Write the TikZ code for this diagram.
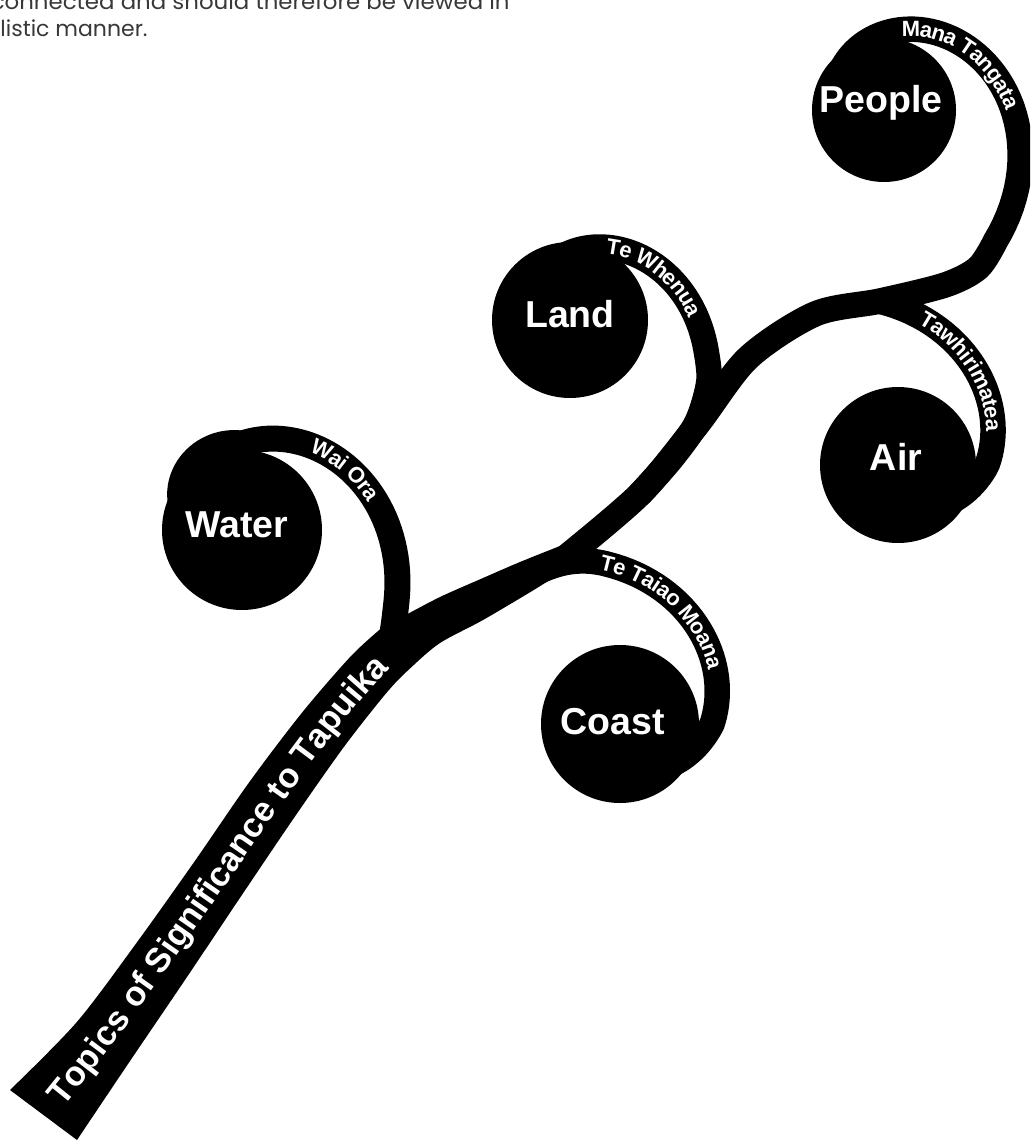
\documentclass[tikz,border=0pt]{standalone}
\usepackage{fontspec}
\setmainfont{Liberation Sans}
\newfontfamily\gothic{Poppins}
\usetikzlibrary{decorations.text}
\newcommand\blobfont{\fontsize{18.75}{20}\selectfont\bfseries}
\newcommand\bandfont{\fontsize{11}{12}\selectfont\bfseries}
\newcommand\trunkfont{\fontsize{17.25}{18}\selectfont\bfseries}
% spiral radii (angle in degrees, picture units = px)
\pgfmathdeclarefunction{rpeople}{1}{\pgfmathparse{129*exp(-0.0058*#1)}}
\pgfmathdeclarefunction{rland}{1}{\pgfmathparse{127.5*exp(-0.0071*#1)}}
\pgfmathdeclarefunction{rwater}{1}{\pgfmathparse{147*exp(-0.0059*#1)+0.009*max(#1-90,0)*max(170-#1,0)}}
\pgfmathdeclarefunction{rcoast}{1}{\pgfmathparse{92*exp(0.00588*#1+0.003*min(#1,0))}}
\pgfmathdeclarefunction{rair}{1}{\pgfmathparse{89*exp(0.0064*#1+0.003*min(#1,0))}}
\begin{document}
\begin{tikzpicture}[x=0.5pt,y=0.5pt,
  band/.style={draw=black, line width=12.75pt, line cap=butt, line join=round},
  blob/.style={circle, fill=black, inner sep=0pt, draw=none},
  blobtext/.style={text=white, font=\blobfont, inner sep=0pt, anchor=base},
  toptext/.style={text=black!78, font=\gothic\fontsize{11}{13}\selectfont, inner sep=0pt, anchor=base east},
  bandtext/.style={decorate, decoration={text along path, text align=center, raise=-3.5pt, text={|\bandfont\color{white}|#1}}},
]
\useasboundingbox (0,0) rectangle (1030,-1144);
\fill[white] (0,0) rectangle (1030,-1144);
\clip (0,0) rectangle (1030,-1144);

% top text (cut off)
\node[toptext] (line1) at (510,-10) {\scalebox{1.04}[1]{connected and should therefore be viewed in}};
\node[toptext] (line2) at (148,-37) {holistic manner.};

% trunk
\fill[black] plot[smooth] coordinates {(10,-1090) (76.6,-1022.3) (136.3,-943.2) (194.5,-861.5) (249.1,-782.4) (302,-712.7) (350.3,-656.8) (380.2,-629.2)}
  -- plot[smooth] coordinates {(402,-617) (440,-597) (483,-578) (520,-562) (560,-546)}
  -- plot[smooth] coordinates {(576,-563) (537,-588) (483,-620) (440,-643) (411.8,-666.8) (387.7,-691.4) (344.8,-745.7) (295.7,-815.4) (242.2,-894.5) (186.1,-978.3) (129.4,-1061.9) (77,-1140)} -- cycle;

% circles
\node[blob, minimum size=72pt] (people) at (884,-110) {};
\node[blob, minimum size=78pt] (land) at (570,-320) {};
\node[blob, minimum size=80pt] (water) at (242,-530) {};
\node[blob, minimum size=79pt] (coast) at (620,-724) {};
\node[blob, minimum size=78pt] (air) at (898,-465) {};

% main branch to People
\draw[band] plot[smooth] coordinates {(560,-562) (640,-494) (697,-425) (748,-358) (815,-314) (880,-301) (945,-285) (978,-268) (994.9,-242.1)}
  -- plot[variable=\s, domain=0:1, samples=60] ({884+rpeople(-50+190*\s)*cos(-50+190*\s)}, {-110+rpeople(-50+190*\s)*sin(-50+190*\s)});

% Land
\draw[band] plot[smooth] coordinates {(640,-494) (672,-458) (697,-422) (709,-380) (704.8,-343.8)}
  -- plot[variable=\s, domain=0:1, samples=50] ({570+rland(-10+115*\s)*cos(-10+115*\s)}, {-320+rland(-10+115*\s)*sin(-10+115*\s)});

% Water
\draw[band, line width=13pt] plot[variable=\s, domain=0:1, samples=80] ({242+rwater(170-195*\s)*cos(170-195*\s)}, {-530+rwater(170-195*\s)*sin(170-195*\s)})
  to[out=-96.3, in=65] (381,-668);

% Coast
\draw[band] (470,-609) to[out=25, in=166.4] (606,-563.8)
  -- plot[variable=\s, domain=0:1, samples=60] ({620+rcoast(95-165*\s)*cos(95-165*\s)}, {-724+rcoast(95-165*\s)*sin(95-165*\s)});

% Air
\draw[band] plot[variable=\s, domain=0:1, samples=60] ({898+rair(97-172*\s)*cos(97-172*\s)}, {-465+rair(97-172*\s)*sin(97-172*\s)});

% labels in circles
\node[blobtext] (peopleT) at (881,-113) {People};
\node[blobtext] (landT) at (570,-328) {Land};
\node[blobtext] (waterT) at (237,-537) {Water};
\node[blobtext] (coastT) at (613,-734) {Coast};
\node[blobtext] (airT) at (896,-470) {Air};

% band labels
\path[bandtext={Mana Tangata}] plot[variable=\s, domain=0:1, samples=50] ({884+rpeople(105-120*\s)*cos(105-120*\s)}, {-110+rpeople(105-120*\s)*sin(105-120*\s)});
\path[bandtext={Te Whenua}] plot[variable=\s, domain=0:1, samples=50] ({570+rland(88-100*\s)*cos(88-100*\s)}, {-320+rland(88-100*\s)*sin(88-100*\s)});
\path[bandtext={Wai Ora}] plot[variable=\s, domain=0:1, samples=50] ({242+rwater(65-63*\s)*cos(65-63*\s)}, {-530+rwater(65-63*\s)*sin(65-63*\s)});
\path[bandtext={Te Taiao Moana}] plot[variable=\s, domain=0:1, samples=50] ({620+rcoast(102-80*\s)*cos(102-80*\s)}, {-724+rcoast(102-80*\s)*sin(102-80*\s)});
\path[bandtext={Tawhirimatea}] plot[variable=\s, domain=0:1, samples=50] ({898+rair(86-74*\s)*cos(86-74*\s)}, {-465+rair(86-74*\s)*sin(86-74*\s)});

% trunk label
\path[decorate, decoration={text along path, text align=center, raise=-5.5pt, text={|\trunkfont\color{white}|Topics of Significance to Tapuika}}]
  plot[variable=\s, domain=0:1, samples=60] ({(1-\s)*(1-\s)*(1-\s)*43 + 3*(1-\s)*(1-\s)*\s*171.6 + 3*(1-\s)*\s*\s*311.7 + \s*\s*\s*396}, {-((1-\s)*(1-\s)*(1-\s)*1115 + 3*(1-\s)*(1-\s)*\s*961.8 + 3*(1-\s)*\s*\s*718.7 + \s*\s*\s*648)});
\end{tikzpicture}
\end{document}
